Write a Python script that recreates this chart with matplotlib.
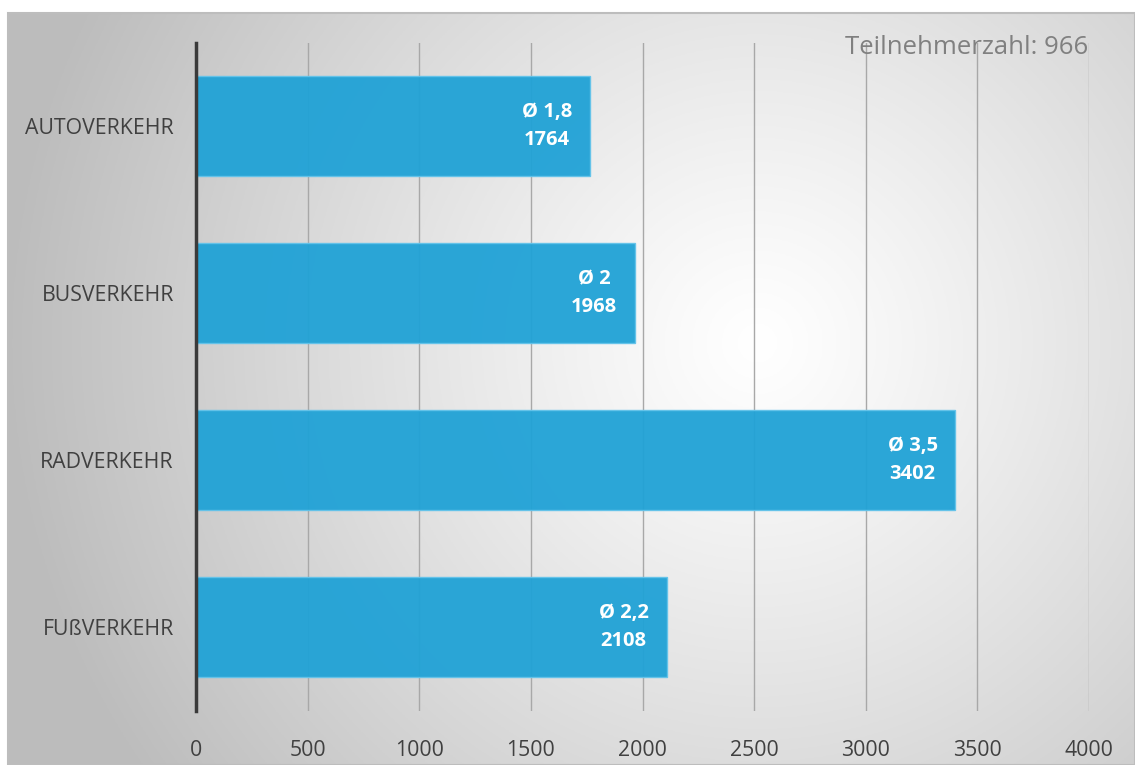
import numpy as np
import matplotlib.pyplot as plt
from matplotlib.patches import Rectangle

kategorien = ['AUTOVERKEHR', 'BUSVERKEHR', 'RADVERKEHR', 'FUßVERKEHR']
werte = [1764, 1968, 3402, 2108]
durchschnitt = ['1,8', '2', '3,5', '2,2']
x_ticks = [0, 500, 1000, 1500, 2000, 2500, 3000, 3500, 4000]
teilnehmer = 966

plt.rcParams['font.family'] = ['Open Sans', 'DejaVu Sans']

W, H = 1135, 765
fig = plt.figure(figsize=(W / 100, H / 100), dpi=100)

# Hintergrund: radialer Verlauf im Rahmen
bg = fig.add_axes([8 / W, 0, 1 - 8 / W, 1 - 13 / H])
bg.set_axis_off()
gx, gy = np.meshgrid(np.linspace(0, 1127, 400), np.linspace(0, 752, 300))
cx, cy = 750, 330
d = np.sqrt((gx - cx) ** 2 + (gy - cy) ** 2) / 800
shade = np.clip(1.0 - 0.28 * d ** 1.15, 0.74, 1.0)
img = np.dstack([shade, shade, shade])
bg.imshow(img, extent=[0, 1, 0, 1], origin='upper', aspect='auto')
bg.set_xlim(0, 1)
bg.set_ylim(0, 1)
fig.patches.append(Rectangle((8 / W, 0), 1 - 8 / W, 1 - 13 / H, transform=fig.transFigure,
                             fill=False, edgecolor='#bdbdbd', linewidth=1.5))

ax = fig.add_axes([196 / W, 1 - 710.5 / H, (1089 - 196) / W, (710.5 - 42.5) / H])
ax.patch.set_alpha(0)

pos = np.arange(len(kategorien))[::-1]
bars = ax.barh(pos, werte, height=0.6, color='#20a2d6', alpha=0.95,
               edgecolor='#63c3ea', linewidth=1, zorder=3)

for b, v, m in zip(bars, werte, durchschnitt):
    ax.text(v - 80, b.get_y() + b.get_height() / 2, f'Ø {m}\n{v}',
            ha='right', va='center', ma='center', color='white',
            fontsize=14.5, fontweight='bold', linespacing=1.55, zorder=4)

ax.set_xlim(0, 4000)
ax.set_ylim(-0.5, 3.5)
ax.set_xticks(x_ticks)
ax.set_yticks(pos)
ax.set_yticklabels(kategorien)
ax.tick_params(axis='both', length=0, labelsize=15.3, colors='#404040')
ax.tick_params(axis='x', pad=21)
ax.tick_params(axis='y', pad=16)
ax.grid(axis='x', color='#a8a8a8', linewidth=1, zorder=1)
ax.set_axisbelow(True)
for s in ['top', 'right', 'bottom']:
    ax.spines[s].set_visible(False)
ax.spines['left'].set_color('#3a3a3a')
ax.spines['left'].set_linewidth(2.5)
ax.spines['left'].set_zorder(5)

fig.text(1088 / W, 1 - 47 / H, f'Teilnehmerzahl: {teilnehmer}', ha='right', va='center',
         fontsize=18.5, color='#808080')

fig.savefig('out.png', dpi=100)
